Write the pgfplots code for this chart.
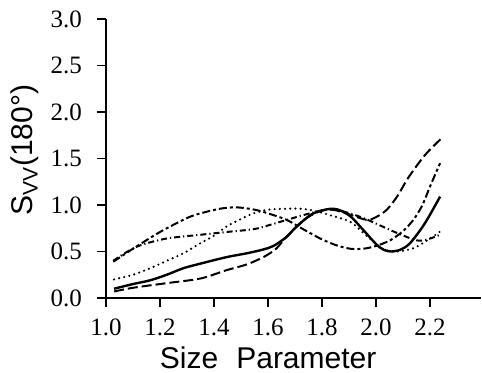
\documentclass[border=0pt]{standalone}
\usepackage{fontspec}
\setmainfont{Liberation Serif}
\newfontfamily\labfont{Liberation Sans}
\usepackage{pgfplots}
\pgfplotsset{compat=1.18}
\begin{document}
\begin{tikzpicture}
\path[use as bounding box] (-53pt,-37pt) rectangle (188pt,149pt);
\begin{axis}[
  scale only axis,
  width=187.7pt, height=139.5pt,
  xmin=1.0, xmax=2.39, ymin=0, ymax=3.0,
  axis lines=left,
  axis line style={-, line width=0.8pt},
  tick align=outside,
  major tick length=4.5pt,
  tick style={line width=0.8pt, black},
  xtick={1.0,1.2,1.4,1.6,1.8,2.0,2.2},
  ytick={0,0.5,1.0,1.5,2.0,2.5,3.0},
  /pgf/number format/assume math mode=true,
  /pgf/number format/.cd, fixed, fixed zerofill, precision=1,
  /pgfplots/.cd,
  yticklabel style={font=\fontsize{12.5}{13}\selectfont, xshift=-4pt},
  xticklabel style={font=\fontsize{12.5}{13}\selectfont, yshift=-2.5pt},
  xlabel={Size\hspace{0.6em}Parameter},
  xlabel style={font=\labfont\fontsize{15}{16}\selectfont, at={(axis description cs:0.432,0)}, anchor=base, yshift=-35pt},
  clip=false,
  every axis plot/.append style={black, line width=1pt, smooth},
]
% solid
\addplot[solid, line width=1.2pt] coordinates {
(1.03,0.10) (1.10,0.15) (1.163,0.19) (1.225,0.25) (1.286,0.32) (1.35,0.37)
(1.447,0.44) (1.52,0.48) (1.58,0.52) (1.62,0.56) (1.67,0.66) (1.706,0.77)
(1.768,0.91) (1.842,0.96) (1.90,0.89) (1.953,0.73) (2.00,0.58) (2.027,0.52)
(2.055,0.50) (2.09,0.52) (2.126,0.59) (2.18,0.80) (2.237,1.09)};
% long dashed
\addplot[dash pattern=on 5pt off 2pt] coordinates {
(1.03,0.07) (1.10,0.11) (1.225,0.16) (1.35,0.21) (1.447,0.30) (1.52,0.36)
(1.583,0.44) (1.63,0.53) (1.669,0.66) (1.743,0.86) (1.80,0.94) (1.84,0.95)
(1.90,0.90) (1.965,0.84) (2.00,0.87) (2.04,0.95) (2.08,1.10) (2.114,1.27)
(2.15,1.42) (2.188,1.56) (2.243,1.72)};
% dotted
\addplot[line width=1.2pt, line cap=round, dash pattern=on 0pt off 2.6pt] coordinates {
(1.03,0.20) (1.10,0.25) (1.163,0.32) (1.225,0.40) (1.286,0.48) (1.35,0.59)
(1.40,0.67) (1.447,0.77) (1.50,0.85) (1.546,0.91) (1.60,0.95) (1.669,0.96)
(1.72,0.96) (1.768,0.94) (1.83,0.89) (1.904,0.82) (1.953,0.70) (2.00,0.58)
(2.03,0.52) (2.077,0.50) (2.12,0.52) (2.15,0.55) (2.20,0.64) (2.24,0.72)};
% long-short dash
\addplot[dash pattern=on 4pt off 1.5pt on 1.5pt off 1.5pt] coordinates {
(1.027,0.39) (1.10,0.53) (1.20,0.71) (1.30,0.86) (1.35,0.91) (1.422,0.96)
(1.484,0.975) (1.55,0.95) (1.60,0.91) (1.669,0.84) (1.73,0.74) (1.793,0.64)
(1.85,0.57) (1.904,0.53) (1.953,0.53) (2.00,0.56) (2.052,0.62) (2.10,0.72)
(2.138,0.84) (2.17,0.99) (2.20,1.20) (2.237,1.45)};
% dash-dot
\addplot[dash pattern=on 3pt off 1.5pt on 0.6pt off 1.5pt] coordinates {
(1.027,0.40) (1.08,0.50) (1.13,0.57) (1.225,0.64) (1.35,0.68) (1.447,0.71)
(1.546,0.74) (1.60,0.78) (1.669,0.84) (1.768,0.92) (1.83,0.95) (1.88,0.93)
(1.953,0.86) (2.00,0.80) (2.077,0.70) (2.15,0.62) (2.19,0.63) (2.237,0.68)};
\end{axis}
\node[rotate=90, anchor=base, inner sep=0pt, font=\labfont\fontsize{15}{16}\selectfont] at (-36.5pt,73.8pt) {S\textsubscript{VV}(180°)};
\end{tikzpicture}
\end{document}
